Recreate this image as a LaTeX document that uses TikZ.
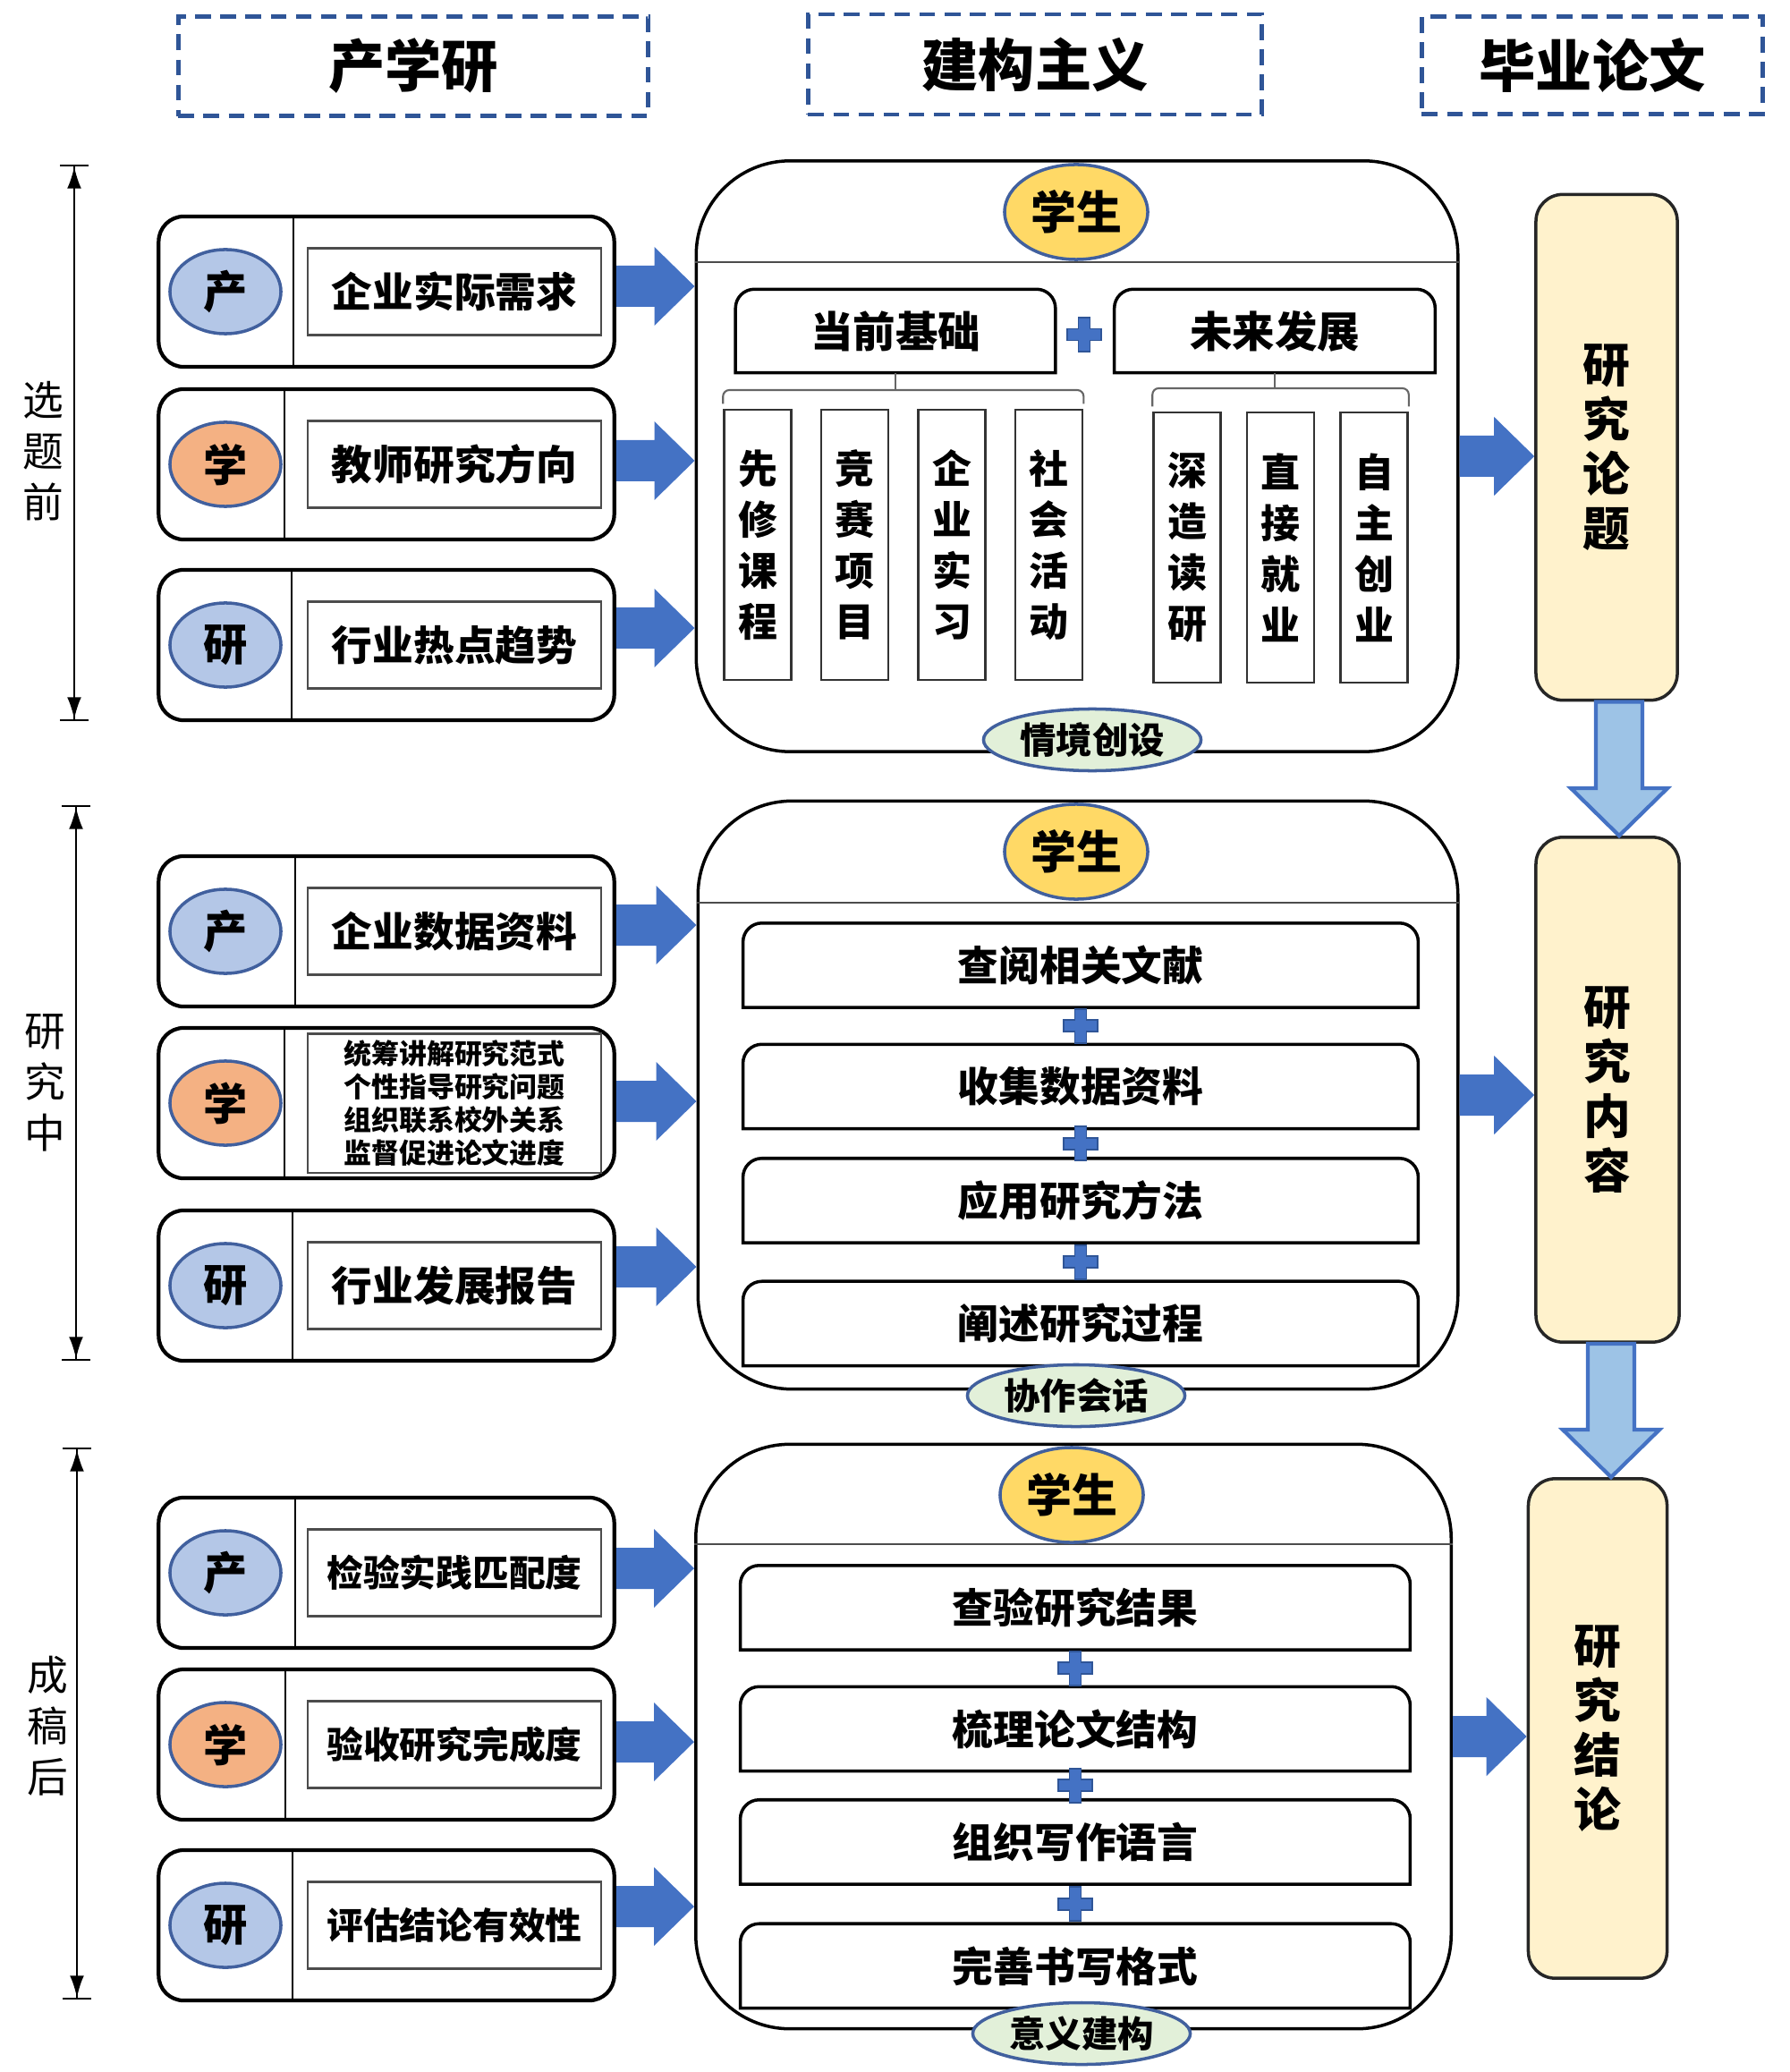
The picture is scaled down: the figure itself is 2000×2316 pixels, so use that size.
\documentclass[tikz,border=0pt]{standalone}
\usepackage{fontspec}
\setmainfont{Noto Sans CJK SC}
\usetikzlibrary{positioning,shapes.geometric,calc,arrows.meta}
\definecolor{hdrblue}{HTML}{2F5597}
\definecolor{arrowblue}{HTML}{4472C4}
\definecolor{tagedge}{HTML}{41609E}
\definecolor{tagblue}{HTML}{B4C7E7}
\definecolor{tagorange}{HTML}{F4B183}
\definecolor{gold}{HTML}{FFD966}
\definecolor{palegreen}{HTML}{E2F0D9}
\definecolor{cream}{HTML}{FFF2CC}
\definecolor{downblue}{HTML}{9DC3E6}

% frame with rounded top corners only
\newcommand{\tabframe}[1]{%
  \draw[tabline] (#1.south west) -- ([yshift=-6pt]#1.north west)
    arc[start angle=180, end angle=90, radius=6pt] -- ([xshift=-6pt]#1.north east)
    arc[start angle=90, end angle=0, radius=6pt] -- (#1.south east) -- cycle;}

\begin{document}
\begin{tikzpicture}%
    [x=0.01cm, y=-0.01cm,
    header/.style={draw=hdrblue, line width=1.3pt, dash pattern=on 5pt off 3pt, font=\fontsize{18}{20}\selectfont\bfseries},
    stage/.style={align=center, font=\fontsize{13}{16.2}\selectfont},
    dimline/.style={line width=0.6pt, arrows={{Bar[width=9pt]Latex[length=7pt,width=4.5pt]}-{Latex[length=7pt,width=4.5pt]Bar[width=9pt]}}},
    rowbox/.style={draw, line width=1.2pt, rounded corners=0.28cm, minimum width=5.09cm, minimum height=1.68cm},
    divider/.style={line width=0.6pt},
    tag/.style={ellipse, draw=tagedge, line width=1pt, minimum width=1.24cm, minimum height=0.94cm, inner sep=0pt, font=\fontsize{14}{15}\selectfont\bfseries},
    needbox/.style={draw=black!70, line width=0.6pt, minimum width=3.27cm, inner sep=0pt, align=center},
    roundbox/.style={draw, line width=1pt, rounded corners=1.05cm},
    sepline/.style={draw=black!70, line width=0.7pt},
    student/.style={ellipse, draw=tagedge, fill=gold, line width=1pt, minimum width=1.6cm, minimum height=1.06cm, inner sep=0pt, font=\fontsize{14.5}{15}\selectfont\bfseries},
    phase/.style={ellipse, draw=tagedge, fill=palegreen, line width=1pt, minimum width=2.43cm, minimum height=0.69cm, inner sep=0pt, font=\fontsize{11.5}{12}\selectfont\bfseries},
    tabnode/.style={minimum height=0.92cm, inner sep=0pt, font=\fontsize{13.5}{15}\selectfont\bfseries},
    tabline/.style={draw, line width=1pt},
    colbox/.style={draw=black!80, line width=0.7pt, minimum width=0.75cm, minimum height=3.02cm, inner sep=0pt, align=center, font=\fontsize{12.5}{16.2}\selectfont\bfseries},
    braceline/.style={draw=black!60, line width=0.6pt, rounded corners=2pt},
    stepbox/.style={minimum width=7.53cm, minimum height=0.93cm, inner sep=0pt, font=\fontsize{13}{15}\selectfont\bfseries},
    goalbox/.style={draw=black!85, fill=cream, line width=1pt, rounded corners=0.3cm, minimum width=1.58cm, minimum height=5.65cm, inner sep=0pt, align=center, font=\fontsize{15}{17.4}\selectfont\bfseries},
    bluearrow/.style={fill=arrowblue},
    downarrow/.style={fill=downblue, draw=arrowblue, line width=1.2pt},
    plusfill/.style={fill=arrowblue, draw=hdrblue, line width=0.5pt},
    harrow/.style={to path={($(\tikztostart)+(0,-23)$) -- ($(\tikztotarget)+(-45,-23)$) -- ($(\tikztotarget)+(-45,-44)$) -- (\tikztotarget) -- ($(\tikztotarget)+(-45,44)$) -- ($(\tikztotarget)+(-45,23)$) -- ($(\tikztostart)+(0,23)$) -- cycle}},
    varrow/.style={to path={($(\tikztostart)+(-26,0)$) -- ($(\tikztotarget)+(-26,-53)$) -- ($(\tikztotarget)+(-54,-53)$) -- (\tikztotarget) -- ($(\tikztotarget)+(54,-53)$) -- ($(\tikztotarget)+(26,-53)$) -- ($(\tikztostart)+(26,0)$) -- cycle}},
    plussign/.pic={\path[plusfill] (-6.5,-19) -- (6.5,-19) -- (6.5,-6.5) -- (19,-6.5) -- (19,6.5) -- (6.5,6.5) -- (6.5,19) -- (-6.5,19) -- (-6.5,6.5) -- (-19,6.5) -- (-19,-6.5) -- (-6.5,-6.5) -- cycle;}
    ]
    \useasboundingbox (0,0) rectangle (2000,2316);

    % column headers
    \node[header, minimum width=5.25cm, minimum height=1.11cm] (hprod) at (462,74)  {产学研};
    \node[header, minimum width=5.07cm, minimum height=1.12cm] (hcons) at (1157,72) {建构主义};
    \node[header, minimum width=3.81cm, minimum height=1.09cm] (hthes) at (1780,73) {毕业论文};

    % stages on the left
    \coordinate (t1) at (83,184);  \coordinate (b1) at (83,806);
    \coordinate (t2) at (85,900);  \coordinate (b2) at (85,1521);
    \coordinate (t3) at (86,1618); \coordinate (b3) at (86,2235);
    \draw[dimline] (t1) -- (b1);
    \draw[dimline] (t2) -- (b2);
    \draw[dimline] (t3) -- (b3);
    \node[stage] (lab1) at (48,504)  {选\\题\\前};
    \node[stage] (lab2) at (50,1210) {研\\究\\中};
    \node[stage] (lab3) at (53,1929) {成\\稿\\后};

    % industry / university / research rows
    \foreach \nm/\yc/\dx/\tc/\tg/\nh/\fz/\fb/\txt in {%
      r11/326/328/tagblue/产/0.97/13/15/企业实际需求,
      r12/519/318/tagorange/学/0.97/13/15/教师研究方向,
      r13/721/326/tagblue/研/0.97/13/15/行业热点趋势,
      r21/1041/330/tagblue/产/0.97/13/15/企业数据资料,
      r22/1233/318/tagorange/学/1.55/8.8/10.5/{统筹讲解研究范式\\个性指导研究问题\\组织联系校外关系\\监督促进论文进度},
      r23/1437/327/tagblue/研/0.97/13/15/行业发展报告,
      r31/1758/330/tagblue/产/0.97/11.6/14/检验实践匹配度,
      r32/1950/319/tagorange/学/0.97/11.6/14/验收研究完成度,
      r33/2152/327/tagblue/研/0.97/11.6/14/评估结论有效性}
    {
      \node[rowbox] (\nm) at (432,\yc) {};
      \draw[divider] (\nm.north -| \dx,0) -- (\nm.south -| \dx,0);
      \node[tag, fill=\tc] (\nm-t) at (252,\yc) {\tg};
      \node[needbox, minimum height=\nh cm, font=\fontsize{\fz}{\fb}\selectfont\bfseries] (\nm-n) at (508,\yc) {\txt};
    }

    % constructivism panels
    \node[roundbox, minimum width=8.51cm, minimum height=6.60cm] (c1) at (1204,510)  {};
    \node[roundbox, minimum width=8.49cm, minimum height=6.57cm] (c2) at (1205,1224) {};
    \node[roundbox, minimum width=8.44cm, minimum height=6.53cm] (c3) at (1200,1941) {};
    \draw[sepline] (c1.west |- 0,293)  -- (c1.east |- 0,293);
    \draw[sepline] (c2.west |- 0,1009) -- (c2.east |- 0,1009);
    \draw[sepline] (c3.west |- 0,1726) -- (c3.east |- 0,1726);
    \node[student] (u1) at (1203,237)  {学生};
    \node[student] (u2) at (1203,952)  {学生};
    \node[student] (u3) at (1198,1671) {学生};

    % panel 1
    \node[tabnode, minimum width=3.56cm] (cur) at (1001,370) {当前基础};
    \node[tabnode, minimum width=3.57cm] (fut) at (1425,370) {未来发展};
    \tabframe{cur}
    \tabframe{fut}
    \pic at (1212,374) {plussign};
    \node[colbox] (v1) at (847,609) {先\\修\\课\\程};
    \node[colbox, right=0.31cm of v1] (v2) {竞\\赛\\项\\目};
    \node[colbox, right=0.31cm of v2] (v3) {企\\业\\实\\习};
    \node[colbox, right=0.31cm of v3] (v4) {社\\会\\活\\动};
    \node[colbox] (v5) at (1327,612) {深\\造\\读\\研};
    \node[colbox, right=0.27cm of v5] (v6) {直\\接\\就\\业};
    \node[colbox, right=0.27cm of v6] (v7) {自\\主\\创\\业};
    \draw[braceline] ([yshift=1.5pt]v1.north west) |- (cur.south |- 0,436) -| ([yshift=1.5pt]v4.north east);
    \draw[braceline] (cur.south) -- (cur.south |- 0,436);
    \draw[braceline] ([yshift=1.5pt]v5.north west) |- (fut.south |- 0,434) -| ([yshift=1.5pt]v7.north east);
    \draw[braceline] (fut.south) -- (fut.south |- 0,434);

    % panel 2
    \node[stepbox] (p1) at (1208,1079) {查阅相关文献};
    \node[stepbox, below=0.41cm of p1] (p2) {收集数据资料};
    \node[stepbox, below=0.33cm of p2] (p3) {应用研究方法};
    \node[stepbox, below=0.43cm of p3] (p4) {阐述研究过程};

    % panel 3
    \node[stepbox, minimum width=7.47cm] (q1) at (1202,1797) {查验研究结果};
    \node[stepbox, minimum width=7.47cm, below=0.41cm of q1] (q2) {梳理论文结构};
    \node[stepbox, minimum width=7.47cm, below=0.32cm of q2] (q3) {组织写作语言};
    \node[stepbox, minimum width=7.47cm, below=0.44cm of q3] (q4) {完善书写格式};

    \foreach \nm in {p1,p2,p3,p4,q1,q2,q3,q4} {\tabframe{\nm}}
    \foreach \a/\b in {p1/p2,p2/p3,p3/p4,q1/q2,q2/q3,q3/q4}
      \pic at ($(\a.south)!0.5!(\b.north)$) {plussign};

    \node[phase] (e1) at (1221,827)  {情境创设};
    \node[phase] (e2) at (1203,1560) {协作会话};
    \node[phase] (e3) at (1209,2273) {意义建构};

    % thesis column
    \node[goalbox] (s1) at (1796,500)  {研\\究\\论\\题};
    \node[goalbox, minimum width=1.60cm, minimum height=5.64cm] (s2) at (1797,1218) {研\\究\\内\\容};
    \node[goalbox, minimum width=1.55cm, minimum height=5.58cm] (s3) at (1786,1932) {研\\究\\结\\论};

    % arrows
    \foreach \nm/\ay/\cn in {r11/320/c1, r12/515/c1, r13/702/c1,
                             r21/1034/c2, r22/1231/c2, r23/1416/c2,
                             r31/1753/c3, r32/1947/c3, r33/2131/c3}
      \path[bluearrow] (\nm.east |- 0,\ay) to[harrow] (\cn.west |- 0,\ay);
    \path[bluearrow] (c1.east) to[harrow] (s1.west |- c1.east);
    \path[bluearrow] (c2.east) to[harrow] (s2.west |- c2.east);
    \path[bluearrow] (c3.east) to[harrow] (s3.west |- c3.east);
    \coordinate (d1) at (s1.south -| 1810,0);
    \coordinate (d2) at (s2.south -| 1801,0);
    \path[downarrow] (d1) to[varrow] (d1 |- s2.north);
    \path[downarrow] (d2) to[varrow] (d2 |- s3.north);
\end{tikzpicture}
\end{document}
